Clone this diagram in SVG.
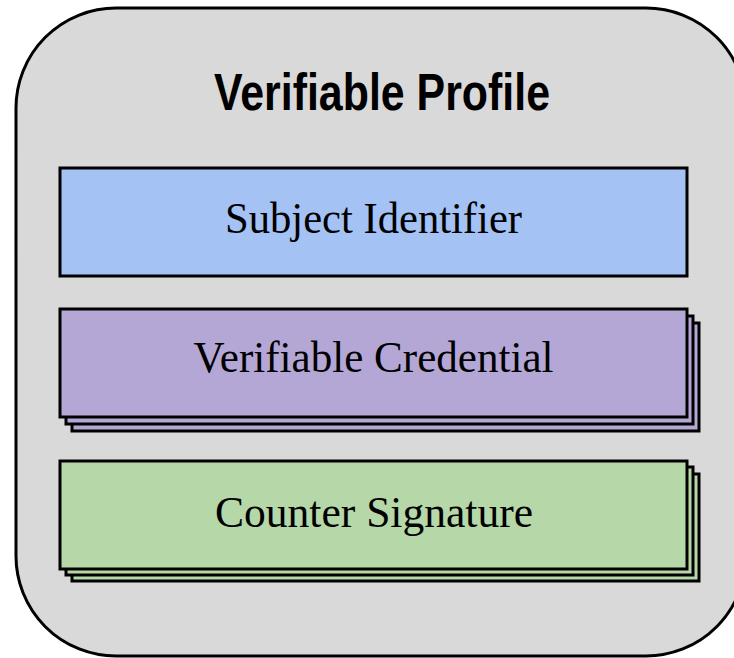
<svg xmlns="http://www.w3.org/2000/svg" width="734" height="658" viewBox="0 0 734 658">
  <style>
    .frame { fill: #d9d9d9; stroke: #000; stroke-width: 3; }
    .box { stroke: #000; stroke-width: 3; }
    .blue { fill: #a4c2f4; }
    .purple { fill: #b4a7d6; }
    .green { fill: #b6d7a8; }
    .title { font-family: "Liberation Sans", Arial, sans-serif; font-weight: bold; font-size: 52px; fill: #000; text-anchor: middle; }
    .label { font-family: "Liberation Serif", "DejaVu Serif", serif; font-size: 44px; fill: #000; text-anchor: middle; }
  </style>

  <g id="verifiable-profile">
    <rect class="frame" x="16" y="8" width="730" height="648" rx="100" ry="100"/>
    <text class="title" x="382" y="110" textLength="336" lengthAdjust="spacingAndGlyphs">Verifiable Profile</text>
  </g>

  <g id="subject-identifier">
    <rect class="box blue" x="60" y="168" width="627" height="108"/>
    <text class="label" x="373.5" y="232.5" textLength="297" lengthAdjust="spacingAndGlyphs">Subject Identifier</text>
  </g>

  <g id="verifiable-credential">
    <rect class="box purple" x="72" y="323" width="627" height="108"/>
    <rect class="box purple" x="66" y="316" width="627" height="108"/>
    <rect class="box purple" x="60" y="309" width="627" height="108"/>
    <text class="label" x="373.5" y="371.5" textLength="360" lengthAdjust="spacingAndGlyphs">Verifiable Credential</text>
  </g>

  <g id="counter-signature">
    <rect class="box green" x="72" y="474" width="627" height="107"/>
    <rect class="box green" x="66" y="467" width="627" height="108"/>
    <rect class="box green" x="60" y="461" width="627" height="108"/>
    <text class="label" x="374" y="526.5" textLength="318" lengthAdjust="spacingAndGlyphs">Counter Signature</text>
  </g>

  <g id="connectors"/>
</svg>
